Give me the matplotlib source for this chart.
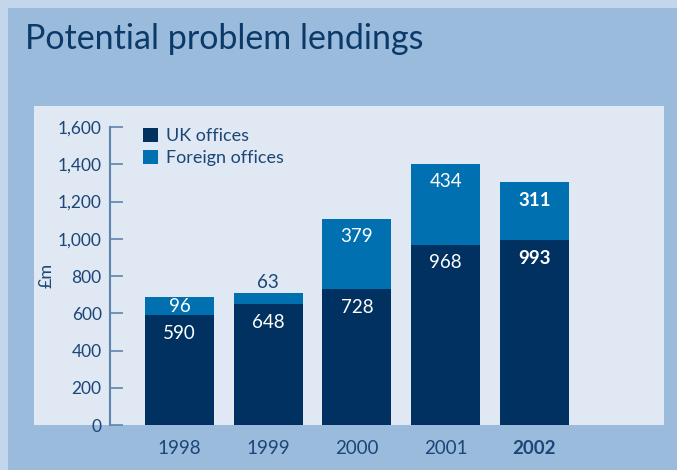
import matplotlib.pyplot as plt
from matplotlib import font_manager
from matplotlib.patches import Rectangle

# potential problem lendings, £m
years = ['1998', '1999', '2000', '2001', '2002']
uk_offices = [590, 648, 728, 968, 993]
foreign_offices = [96, 63, 379, 434, 311]
yticks = [0, 200, 400, 600, 800, 1000, 1200, 1400, 1600]

navy = '#003160'
mid_blue = '#0070b0'
text_blue = '#1b4677'

installed = {f.name for f in font_manager.fontManager.ttflist}
body_font = 'Lato' if 'Lato' in installed else 'DejaVu Sans'
plt.rcParams['font.family'] = [body_font, 'DejaVu Sans']

W, H = 677, 470
fig = plt.figure(figsize=(W / 100, H / 100), dpi=100)
fig.patch.set_facecolor('#c3d6eb')

def px(x0, y0, x1, y1):
    # pixel box (top-left origin) -> figure fraction
    return [x0 / W, 1 - y1 / H, (x1 - x0) / W, (y1 - y0) / H]

# main blue panel behind everything
fig.patches.append(Rectangle((8 / W, 0), 1, 1 - 8 / H, transform=fig.transFigure,
                             facecolor='#9bbbdd', edgecolor='none', zorder=-5))

fig.text(25 / W, 1 - 39 / H, 'Potential problem lendings',
         fontsize=24.5, color='#0b3968', va='center', ha='left')

ax = fig.add_axes(px(34, 106, 664, 425))
ax.set_zorder(1)
ax.set_facecolor('#dfe8f3')

x = list(range(len(years)))
b1 = ax.bar(x, uk_offices, width=0.777, color=navy, label='UK offices', zorder=2)
b2 = ax.bar(x, foreign_offices, bottom=uk_offices, width=0.777, color=mid_blue,
            label='Foreign offices', zorder=2)

ax.set_xlim(-1.639, 5.46)
ax.set_ylim(0, 1713)

# px per data unit on y
ppu = 319 / 1713
for i in x:
    bold = 'bold' if years[i] == '2002' else 'normal'
    # UK value
    ax.annotate(str(uk_offices[i]), (i, uk_offices[i]), xytext=(0, -18 * 0.72),
                textcoords='offset points', ha='center', va='center',
                color='white', fontsize=13.5, fontweight=bold, zorder=3)
    seg = foreign_offices[i] * ppu
    total = uk_offices[i] + foreign_offices[i]
    if seg < 14:
        ax.annotate(str(foreign_offices[i]), (i, total), xytext=(0, 10 * 0.72),
                    textcoords='offset points', ha='center', va='center',
                    color=text_blue, fontsize=13.5, fontweight=bold, zorder=3)
    else:
        off = min(18, seg / 2)
        ax.annotate(str(foreign_offices[i]), (i, total), xytext=(0, -off * 0.72),
                    textcoords='offset points', ha='center', va='center',
                    color='white', fontsize=13.5, fontweight=bold, zorder=3)
    # year label below the panel
    ax.annotate(years[i], (i, 0), xytext=(0, -24 * 0.72), textcoords='offset points',
                ha='center', va='center', color=text_blue, fontsize=13.5,
                fontweight=bold, annotation_clip=False)

for s in ['top', 'right', 'bottom']:
    ax.spines[s].set_visible(False)
ax.spines['left'].set_position(('data', -0.783))
ax.spines['left'].set_bounds(0, 1600)
ax.spines['left'].set_color('#5f84ad')
ax.spines['left'].set_linewidth(1.5)
ax.set_yticks(yticks)
ax.set_yticklabels([f'{v:,}' for v in yticks])
ax.tick_params(axis='y', direction='in', length=9, width=1.2, color='#5f84ad',
               labelcolor=text_blue, labelsize=12.5, pad=6)
ax.set_xticks([])

fig.text(47 / W, 1 - 275 / H, '£m', rotation=90, ha='center', va='center',
         color=text_blue, fontsize=13, zorder=2)

ax.legend(handles=[b1, b2], loc='upper left', bbox_to_anchor=(143 / W, 1 - 128 / H),
          bbox_transform=fig.transFigure, frameon=False, fontsize=13,
          handlelength=0.85, handleheight=0.85, handletextpad=0.45,
          labelspacing=0.3, borderaxespad=0, borderpad=0, labelcolor=text_blue)

fig.savefig('out.png', dpi=100, facecolor=fig.get_facecolor())
